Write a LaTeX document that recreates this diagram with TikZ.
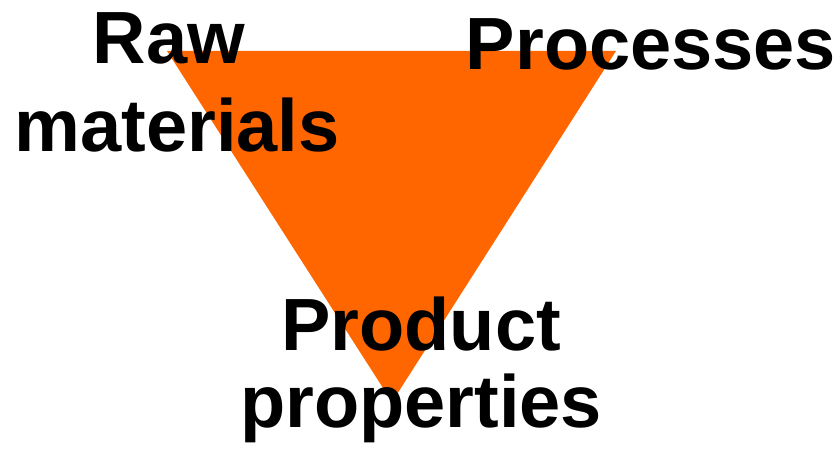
\documentclass[tikz,border=0pt]{standalone}
\usepackage{fontspec}
\setmainfont{Liberation Sans}
\usepackage{tikz}
\usetikzlibrary{positioning}
\definecolor{triorange}{HTML}{FF6600}
\tikzset{corner/.style={font=\bfseries\fontsize{74}{88}\selectfont, align=center, inner sep=0pt, anchor=base}}

\begin{document}
\begin{tikzpicture}[x=1pt,y=-1pt]

  \useasboundingbox (0,0) rectangle (839,454);

  	\coordinate (tl) at (167,51);
  		\coordinate (tr) at (616,51);
  		\coordinate (bt) at (392,402);

  	\fill[triorange] (tl) -- (tr) -- (bt) -- cycle;

  	% base anchor sits on the last line
  	\node[corner] at (177,152) (raw) {Raw\hspace*{16pt}\\materials};
  	\node[corner] at (651,70) (proc) {Processes};
  	\node[corner] at (421,428) (prod) {Product\\[-11pt]properties};

\end{tikzpicture}
\end{document}
